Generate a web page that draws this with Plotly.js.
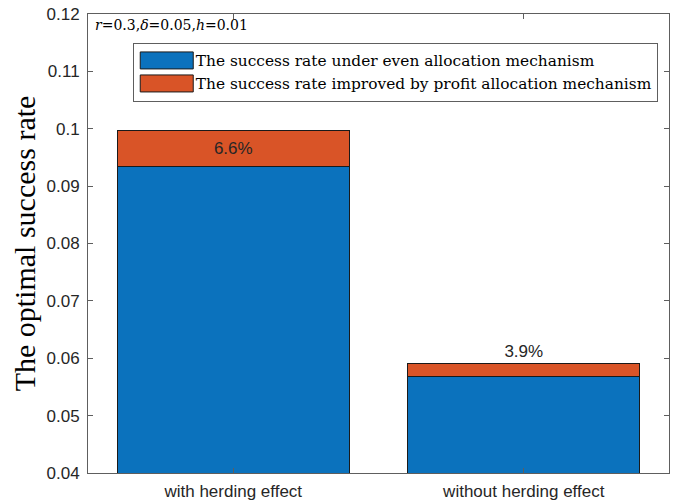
<!DOCTYPE html>
<html>
<head>
<meta charset="utf-8">
<script src="https://cdn.plot.ly/plotly-3.0.1.min.js"></script>
<style>html,body{margin:0;padding:0;background:#fff;}#chart{width:680px;height:503px;}</style>
</head>
<body>
<div id="chart"></div>
<script>
// Data
const categories = ["with herding effect", "without herding effect"];
const evenRate = [0.0935, 0.0568];        // success rate under even allocation
const improvedRate = [0.00617, 0.0022];   // improvement by profit allocation
const pctLabels = evenRate.map((v, i) => (improvedRate[i] / v * 100).toFixed(1) + "%");
const yTicks = [0.04, 0.05, 0.06, 0.07, 0.08, 0.09, 0.1, 0.11, 0.12];
const yTickText = ["0.04", "0.05", "0.06", "0.07", "0.08", "0.09", "0.1", "0.11", "0.12"];
const seriesNames = [
  "The success rate under even allocation mechanism",
  "The success rate improved by profit allocation mechanism"
];

const serif = "Liberation Serif, serif";
const serifWide = "DejaVu Serif, serif";
const sans = "Liberation Sans, Arial, sans-serif";
const axisCol = "#5e5e5e";

const traces = [
  {
    type: "bar", x: categories, y: evenRate, name: seriesNames[0],
    marker: {color: "#0B72BD", line: {color: "#1a1a1a", width: 1}},
    width: 0.8, hoverinfo: "skip"
  },
  {
    type: "bar", x: categories, y: improvedRate, name: seriesNames[1],
    marker: {color: "#D95427", line: {color: "#1a1a1a", width: 1}},
    width: 0.8, hoverinfo: "skip",
    text: pctLabels, textposition: ["inside", "outside"], textangle: 0,
    insidetextanchor: "middle", constraintext: "none", cliponaxis: false,
    textfont: {family: sans, size: 17, color: "#262626"},
    insidetextfont: {family: sans, size: 17, color: "#262626"},
    outsidetextfont: {family: sans, size: 17, color: "#262626"}
  }
];

const layout = {
  width: 680, height: 503,
  margin: {l: 88, r: 11, t: 14, b: 30, autoexpand: false},
  paper_bgcolor: "#fff", plot_bgcolor: "#fff",
  barmode: "stack",
  showlegend: true,
  legend: {
    x: 0.077, y: 0.937, xanchor: "left", yanchor: "top",
    bordercolor: axisCol, borderwidth: 1, bgcolor: "#fff",
    font: {family: serifWide, size: 15.4, color: "#000"},
    tracegroupgap: 0, traceorder: "normal", itemwidth: 52
  },
  xaxis: {
    range: [-0.5, 1.5], type: "category", automargin: false, tickangle: 0,
    showline: true, linecolor: axisCol, linewidth: 1, mirror: "ticks",
    ticks: "inside", ticklen: 5, tickcolor: axisCol,
    tickfont: {family: sans, size: 17, color: "#262626"},
    ticklabelstandoff: 3,
    showgrid: false, zeroline: false, fixedrange: true
  },
  yaxis: {
    range: [0.04, 0.12], tickvals: yTicks, ticktext: yTickText, automargin: false,
    showline: true, linecolor: axisCol, linewidth: 1, mirror: "ticks",
    ticks: "inside", ticklen: 5, tickcolor: axisCol,
    tickfont: {family: sans, size: 17, color: "#262626"},
    ticklabelstandoff: 4,
    showgrid: false, zeroline: false, fixedrange: true,
    title: {text: "The optimal success rate", font: {family: serif, size: 30, color: "#000"}, standoff: 2}
  },
  annotations: [
    {
      xref: "paper", yref: "paper", x: 0.008, y: 0.997, xanchor: "left", yanchor: "top",
      text: "<i>r</i>=0.3,<i>δ</i>=0.05,<i>h</i>=0.01", showarrow: false,
      font: {family: serifWide, size: 14, color: "#000"}
    }
  ]
};

Plotly.newPlot("chart", traces, layout, {staticPlot: true, displayModeBar: false}).then(() => {
  // widen legend swatches to match the reference's long rectangles
  document.querySelectorAll("#chart .legend .legendpoints path").forEach(p => {
    p.setAttribute("d", "M28.5,8.5H-24.5V-8.5H28.5Z");
  });
});
</script>
</body>
</html>
